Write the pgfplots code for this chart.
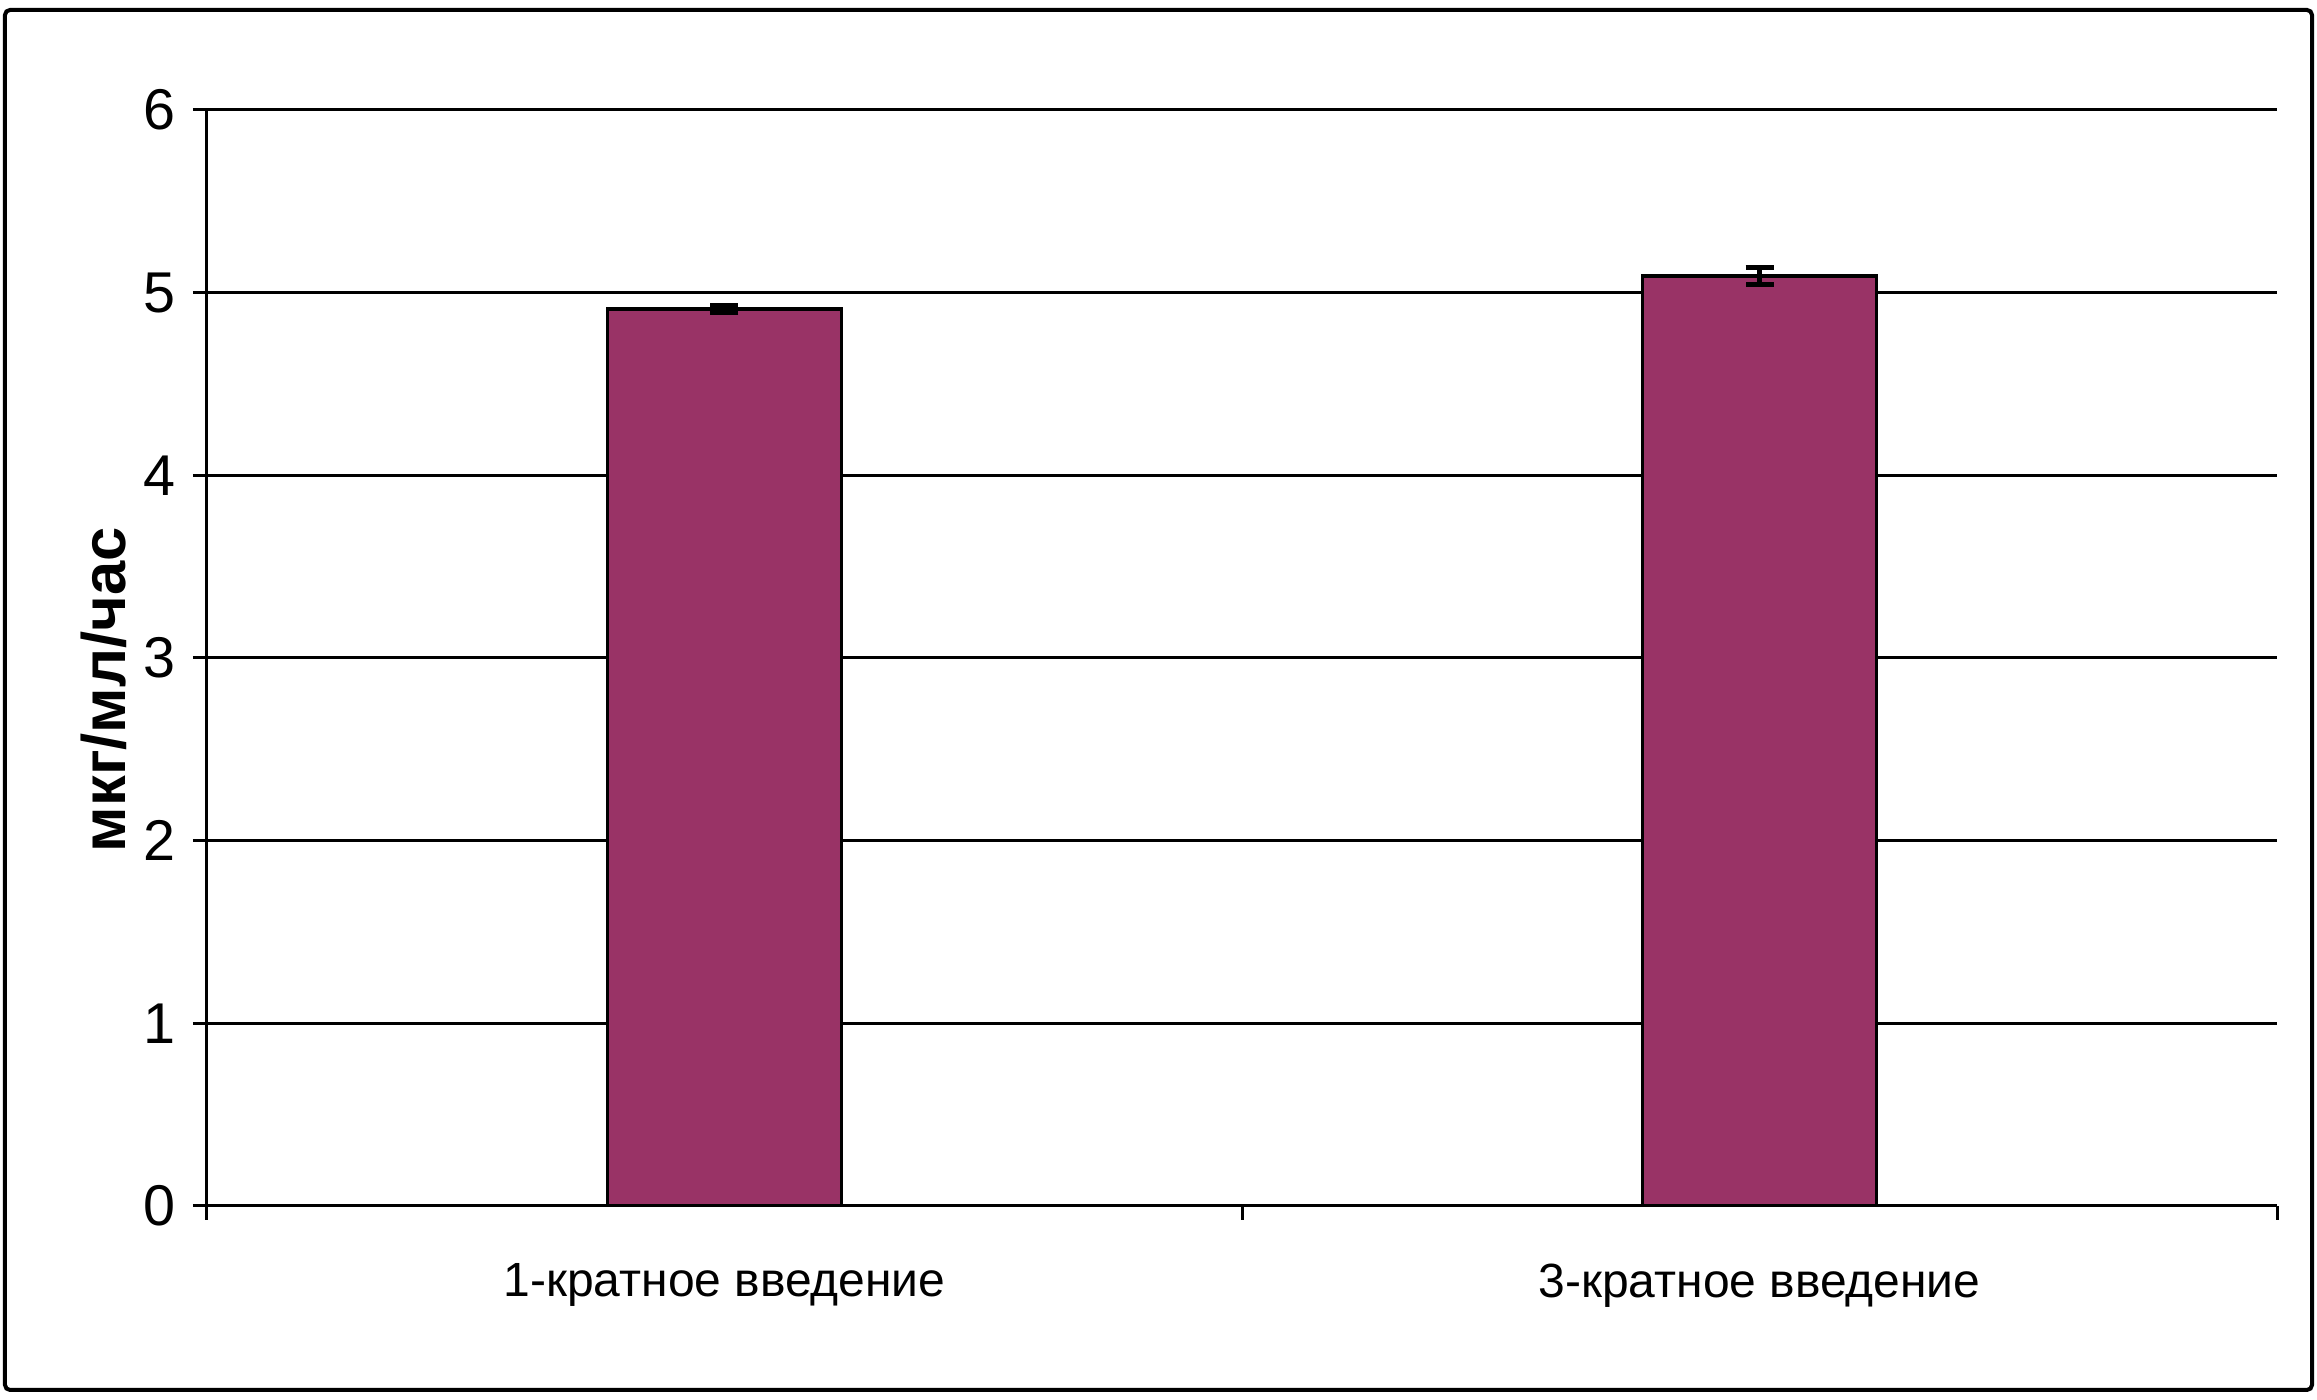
\documentclass[border=0pt]{standalone}
\usepackage{pgfplots}
\pgfplotsset{compat=1.18}
\usepackage{fontspec}
\setmainfont{Liberation Sans}
\definecolor{barplum}{HTML}{993366}
\begin{document}
\begin{tikzpicture}[x=1pt,y=1pt]
\useasboundingbox (-41.4,-38.8) rectangle (422,241.2);
\fill[white] (-41.4,-38.8) rectangle (422,241.2);
\draw[line width=0.8pt, rounded corners=1pt] (-40.4,-36.8) rectangle (421,239.2);
\begin{axis}[at={(0,0)}, anchor=south west, scale only axis,
  width=414pt, height=219.2pt,
  xmin=-0.5, xmax=1.5, ymin=0, ymax=6, ytick={0,1,2,3,4,5,6},
  axis x line=bottom, axis y line=left,
  axis line style={line width=0.6pt, -},
  ymajorgrids, grid style={line width=0.6pt, black},
  xtick={-0.5,0.5,1.5}, xticklabels={},
  extra x ticks={0,1},
  extra x tick labels={1-кратное введение,3-кратное введение},
  extra x tick style={major tick length=0pt, xticklabel style={font=\fontsize{9.6}{11}\selectfont, yshift=-8pt}},
  tick style={black, line width=0.6pt}, major tick length=2.8pt, tick align=outside,
  /pgf/number format/assume math mode=true,
  yticklabel style={font=\fontsize{11.5}{13}\selectfont},
  ylabel={\textbf{мкг/мл/час}},
  ylabel style={font=\fontsize{12.3}{14}\selectfont, at={(axis description cs:-0.050,0.471)}, anchor=center},
]
\addplot[ybar, bar width=46.8pt, fill=barplum, draw=black, line width=0.7pt,
  error bars/.cd, y dir=both, y explicit,
  error bar style={line width=1pt, black},
  error mark options={rotate=90, mark size=2.8pt, line width=1pt, black}]
  coordinates {(0,4.91) +- (0,0.02) (1,5.09) +- (0,0.045)};
\end{axis}
\end{tikzpicture}
\end{document}
